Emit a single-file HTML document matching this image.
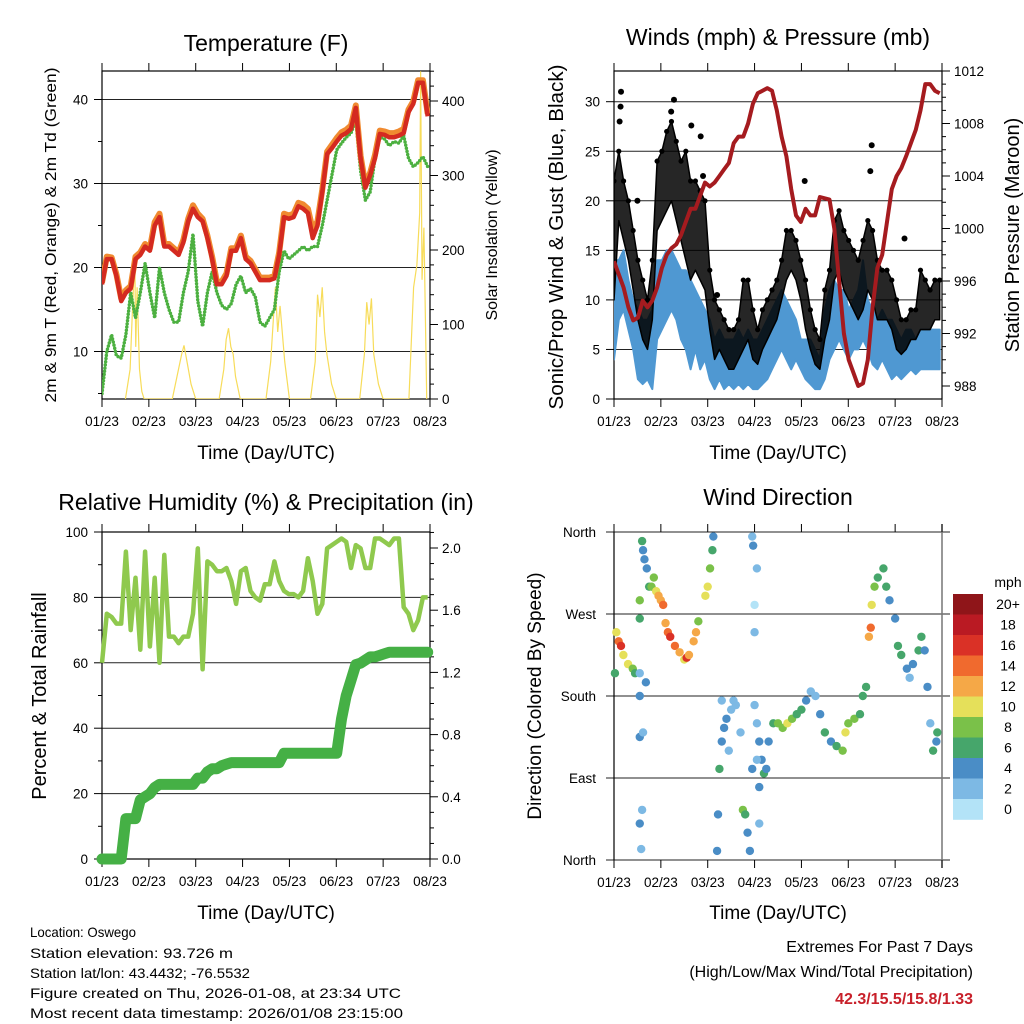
<!DOCTYPE html>
<html><head><meta charset="utf-8"><style>
html,body{margin:0;padding:0;background:#fff}
svg{display:block;font-family:"Liberation Sans",Arial,sans-serif}
</style></head><body>
<svg id="s" width="1024" height="1024" viewBox="0 0 1024 1024" xmlns="http://www.w3.org/2000/svg">
<rect width="1024" height="1024" fill="#fff"/>
<g id="g"></g>
<text x="266" y="51" font-size="23" text-anchor="middle">Temperature (F)</text>
<text x="778" y="45" font-size="23" text-anchor="middle">Winds (mph) &amp; Pressure (mb)</text>
<text x="266" y="510" font-size="23" text-anchor="middle">Relative Humidity (%) &amp; Precipitation (in)</text>
<text x="778" y="505" font-size="23" text-anchor="middle">Wind Direction</text>
<text x="266" y="459" font-size="19" text-anchor="middle">Time (Day/UTC)</text>
<text x="778" y="459" font-size="19" text-anchor="middle">Time (Day/UTC)</text>
<text x="266" y="919" font-size="19" text-anchor="middle">Time (Day/UTC)</text>
<text x="778" y="919" font-size="19" text-anchor="middle">Time (Day/UTC)</text>
<text transform="translate(56,235) rotate(-90)" font-size="16" text-anchor="middle" textLength="335" lengthAdjust="spacingAndGlyphs">2m &amp; 9m T (Red, Orange) &amp; 2m Td (Green)</text>
<text transform="translate(497,235) rotate(-90)" font-size="16" text-anchor="middle">Solar Insolation (Yellow)</text>
<text transform="translate(563,237) rotate(-90)" font-size="20" text-anchor="middle" textLength="345" lengthAdjust="spacingAndGlyphs">Sonic/Prop Wind &amp; Gust (Blue, Black)</text>
<text transform="translate(1019,235) rotate(-90)" font-size="20" text-anchor="middle">Station Pressure (Maroon)</text>
<text transform="translate(46,696) rotate(-90)" font-size="20" text-anchor="middle">Percent &amp; Total Rainfall</text>
<text transform="translate(541,696) rotate(-90)" font-size="19" text-anchor="middle">Direction (Colored By Speed)</text>
<g font-size="14">
<text x="30" y="937" textLength="106" lengthAdjust="spacingAndGlyphs">Location: Oswego</text>
<text x="30" y="958" textLength="203" lengthAdjust="spacingAndGlyphs">Station elevation: 93.726 m</text>
<text x="30" y="978" textLength="220" lengthAdjust="spacingAndGlyphs">Station lat/lon: 43.4432; -76.5532</text>
<text x="30" y="998" textLength="371" lengthAdjust="spacingAndGlyphs">Figure created on Thu, 2026-01-08, at 23:34 UTC</text>
<text x="30" y="1018" textLength="373" lengthAdjust="spacingAndGlyphs">Most recent data timestamp: 2026/01/08 23:15:00</text>
</g>
<g font-size="16" text-anchor="end">
<text x="973" y="952">Extremes For Past 7 Days</text>
<text x="973" y="977">(High/Low/Max Wind/Total Precipitation)</text>
<text x="973" y="1004" fill="#c8202a" font-weight="bold">42.3/15.5/15.8/1.33</text>
</g>
</svg>
<script>
const xLabels=["01/23","02/23","03/23","04/23","05/23","06/23","07/23","08/23"];
const tempRed=[18,21,21,19,16,17,17.5,21,21.5,22.5,22,25,26,22.5,22.5,22,21.5,23,25.5,27,26,25.5,23.5,21,18,18,19,22,22,23.5,21,20.5,19.5,18.5,18.5,18.5,18.7,21.5,26,25.8,26,27.3,27,26.5,23.5,25,29,33.5,34.2,35,35.7,36,36.5,39,33,29.5,31,33,35.9,35.8,35.5,35.5,35.7,36,38.5,39.5,42,42,38];
const tempOrange=[18.2,21.3,21.2,19.2,16.3,17.3,17.8,21.3,21.8,22.8,22.3,25.4,26.4,22.8,22.8,22.3,21.8,23.3,25.8,27.4,26.4,25.8,23.8,21.3,18.3,18.3,19.3,22.3,22.3,23.8,21.3,20.8,19.8,18.8,18.8,18.8,19,21.8,26.4,26.2,26.4,27.7,27.5,27,24.5,25.5,29.3,33.8,34.6,35.4,36.1,36.4,36.9,39.3,33.3,29.8,31.3,33.4,36.3,36.2,36,36,36.2,36.5,38.8,39.8,42.3,42.3,38.3];
const tempDew=[5,10,12,9.5,9.2,12,17,14,17,20.5,17,14,20,17,15,13.5,13.5,17,19.5,24,16,13,17,19.5,17,15.5,15,15.7,18,19,17,17.5,16.5,13.5,13,14,15,19.5,22,21,21.5,22,22.5,22,22.5,22.5,25,28,31,34,34.8,35.5,36,37.5,31.5,28,29,33,35.5,35.3,34.5,35,34.8,35.7,33,32,32.5,33.2,32];
const solarTimes=[0.5,0.6,0.65,0.7,0.72,0.75,0.8,0.85,0.9,1.5,1.6,1.7,1.75,1.8,1.9,2.0,2.5,2.6,2.65,2.7,2.75,2.8,2.85,2.95,3.5,3.6,3.65,3.7,3.75,3.8,3.9,4.0,4.45,4.55,4.6,4.65,4.7,4.75,4.8,4.9,5.0,5.5,5.6,5.65,5.7,5.75,5.8,5.9,6.0,6.55,6.65,6.72,6.78,6.8,6.83,6.87,6.93];
const solarVals=[0,40,120,190,70,150,40,10,0,0,30,60,72,55,20,0,0,40,80,95,70,60,30,0,0,50,100,150,90,125,50,0,0,50,140,110,150,90,60,20,0,0,60,130,100,135,60,20,0,0,150,180,250,440,160,230,0];
const windHi=[14,14,15,12,10,9,8,8,9,14,14,15,15,14,13,13,12,11,10,9,8,6,7,6,6,6,7,6,7,6,6,7,8,9,10,11,10,9,8,6,6,6,5,4,9,11,12,11,11,9,10,11,14,10,9,8,9,8,8,7,6,7,7,6,7,7,7,7,7];
const windLo=[4,8,9,7,5,2,1.5,2,1,6,7,8,9,8,6,5,3,5,3,4,2,1,2,1,1.5,1,1.5,1,1.5,1,1,1.5,2,3,4,5,4,3,4,3,2,1.5,1,1,2,4,5,6,5,4,5,5,6,5,3.5,3,4,3,2,2.5,2,2.5,3,2.5,3,3,3,3,3];
const gustHi=[22,25,22,20,17,14,12,10,14,24,25,27,28,26,24,25,22,22,21,20,13,10,9,8,7,7,8,12,12,9,7,9,10,11,12,14,17,17,16,14,12,9,7,6,11,13,18,19,17,16,15,14,16,18,17,14,13,13,12,10,8,8,9,9,13,12,11,12,12];
const gustLo=[10,18,16,14,11,8,6,5,8,17,18,19,20,18,16,14,12,13,12,11,7,4,5,4,3,3,4,5,6,4,3.5,5,6,7,8,10,12,13,12,10,7,5,3.5,3,6,8,12,13,11,10,9,8,9,11,10,8,8,8,7,5,4.5,5,6,6,7,7,7,8,8];
const gustOutT=[0.15,0.14,0.12,1.28,1.22,1.65,1.85,5.5,5.47,4.07,2.2,6.2,0.5,1.9];
const gustOutV=[31,29.5,28,30.2,29,27.6,26.5,25.6,23,22,10.5,16.2,20,22.5];
const pressure=[997.5,996.5,995.5,994,993,993.2,994.5,994,994.5,995.5,997,998,998.5,998.8,999.5,1000.5,1001.5,1001.5,1002.5,1003.5,1003.2,1003.5,1004,1004.5,1005,1006.5,1007,1007,1008,1009.5,1010.3,1010.5,1010.7,1010.5,1009,1007,1005.5,1003,1001,1000.5,1001.5,1001,1001,1002.4,1002.3,1002.2,1000,996,992,990,989,988,988.2,990,994,997,998,1000.5,1003,1004,1004.6,1005.5,1006.5,1007.5,1009,1011,1011,1010.5,1010.3];
const rh=[60,75,74,72,72,94,70,86,64,94,65,86,60,93,68,68,66,68,68,75,95,58,91,90,88,88,89,85,78,88,89,82,80,79,84,84,91,85,82,81,81,80,82,92,85,75,78,95,96,97,98,97,89,96,95,89,89,98,98,97,96,98,98,77,75,70,73,80,80];
const precip=[0,0,0,0,0,0.26,0.26,0.26,0.38,0.4,0.42,0.46,0.48,0.48,0.48,0.48,0.48,0.48,0.48,0.48,0.52,0.52,0.56,0.58,0.58,0.6,0.61,0.62,0.62,0.62,0.62,0.62,0.62,0.62,0.62,0.62,0.62,0.62,0.68,0.68,0.68,0.68,0.68,0.68,0.68,0.68,0.68,0.68,0.68,0.68,0.9,1.05,1.15,1.25,1.26,1.28,1.3,1.3,1.31,1.32,1.33,1.33,1.33,1.33,1.33,1.33,1.33,1.33,1.33];
const dirT=[0.02,0.05,0.1,0.15,0.2,0.3,0.4,0.45,0.55,0.55,0.55,0.55,0.58,0.62,0.68,0.6,0.55,0.55,0.6,0.62,0.65,0.7,0.75,0.8,0.85,0.9,0.95,1.0,1.05,1.1,1.15,1.2,1.3,1.4,1.5,1.55,1.6,1.7,1.75,1.8,1.95,2.0,2.05,2.1,2.12,2.2,2.22,2.25,2.3,2.35,2.4,2.5,2.55,2.3,2.6,2.7,2.45,2.75,2.8,2.85,2.9,2.95,2.97,3.05,3.0,3.0,3.0,3.05,3.1,3.15,3.2,3.25,3.1,3.1,3.05,2.95,3.3,3.4,3.5,3.6,3.7,3.8,3.9,4.0,4.1,4.2,4.3,4.4,4.5,4.63,4.75,4.88,4.94,5.0,5.13,5.25,5.31,5.38,5.44,5.48,5.5,5.56,5.63,5.75,5.81,5.88,6.0,6.06,6.13,6.25,6.31,6.38,6.5,6.56,6.63,6.69,6.75,6.81,6.88,6.9];
const dirV=[205,250,240,235,225,215,210,205,205,180,135,40,12,140,195,55,285,265,350,340,330,320,300,300,310,295,290,285,280,260,250,245,235,228,220,222,225,240,250,262,290,300,320,340,355,10,50,100,130,145,155,165,175,175,170,140,120,55,50,30,10,355,345,320,280,250,170,150,130,110,95,100,80,40,110,100,130,150,150,145,150,155,160,165,175,185,180,160,140,130,125,120,140,150,155,160,180,190,245,255,280,300,310,320,300,285,265,235,225,210,200,215,230,245,230,190,150,120,130,140];
const dirS=[6,10,14,16,10,10,8,6,2,4,4,4,3,2,4,2,8,6,6,4,4,4,6,8,8,10,12,12,14,12,14,16,14,12,10,16,12,12,12,8,10,10,8,6,4,4,4,6,4,4,4,2,2,2,2,2,2,8,6,4,4,2,4,2,0,2,2,2,4,4,6,4,4,2,2,4,4,6,8,8,10,8,6,6,4,2,2,4,6,4,6,8,10,8,8,6,6,6,12,14,10,8,6,6,6,4,4,6,6,4,2,4,6,6,4,4,2,6,4,6];
const cbLabels=["20+","18","16","14","12","10","8","6","4","2","0"];
const cbColors=["#8f1519","#ba1a23","#da3126","#f06a2e","#f5a847","#e5e05a","#7ac149","#46a66b","#4a8dc6","#7db9e4","#b3e3f7"];

const NS="http://www.w3.org/2000/svg",G=document.getElementById('g');
function el(tag,attrs,parent){const e=document.createElementNS(NS,tag);for(const k in attrs)e.setAttribute(k,attrs[k]);(parent||G).appendChild(e);return e;}
const SPAN=6.95;
function tAt(i,n){return i*SPAN/(n-1);}
function panel(x0,x1,y0,y1){return{x0,x1,y0,y1,sx:t=>x0+(x1-x0)*t/7};}
function lin(v0,p0,v1,p1){return v=>p0+(v-v0)*(p1-p0)/(v1-v0);}
function frame(P,name,leftTicks,ly,leftMinor,rightTicks,ry,rightMinor,rightFmt,grid){
  const g=el('g',{});
  if(grid)leftTicks.forEach(v=>el('line',{x1:P.x0,x2:P.x1,y1:ly(v),y2:ly(v),stroke:'#222','stroke-width':1},g));
  el('rect',{x:P.x0,y:P.y0,width:P.x1-P.x0,height:P.y1-P.y0,fill:'none',stroke:'#000','stroke-width':1.2},g);
  xLabels.forEach((l,i)=>{const x=P.sx(i);el('line',{x1:x,x2:x,y1:P.y1,y2:P.y1+8,stroke:'#000'},g);el('line',{x1:x,x2:x,y1:P.y0,y2:P.y0-8,stroke:'#000'},g);
    const t=el('text',{x:x,y:P.y1+27,'font-size':13.5,'text-anchor':'middle'},g);t.textContent=l;});
  leftTicks.forEach(v=>{const y=ly(v);el('line',{x1:P.x0-8,x2:P.x0,y1:y,y2:y,stroke:'#000'},g);});
  (leftMinor||[]).forEach(v=>{const y=ly(v);el('line',{x1:P.x0-4,x2:P.x0,y1:y,y2:y,stroke:'#000'},g);});
  if(rightTicks){rightTicks.forEach(v=>{const y=ry(v);el('line',{x1:P.x1,x2:P.x1+8,y1:y,y2:y,stroke:'#000'},g);
    const t=el('text',{x:P.x1+12,y:y+5,'font-size':13.5},g);t.textContent=rightFmt(v);});
    (rightMinor||[]).forEach(v=>{const y=ry(v);el('line',{x1:P.x1,x2:P.x1+4,y1:y,y2:y,stroke:'#000'},g);});}
  return g;}
function leftLabels(P,ticks,ly,fmt){ticks.forEach(v=>{const t=el('text',{x:P.x0-14,y:ly(v)+5,'font-size':13.5,'text-anchor':'end'});t.textContent=fmt(v);});}
function pathOf(arr,P,yf){return arr.map((v,i)=>(i?'L':'M')+P.sx(tAt(i,arr.length)).toFixed(1)+' '+yf(v).toFixed(1)).join(' ');}
function band(lo,hi,P,yf){let d=hi.map((v,i)=>(i?'L':'M')+P.sx(tAt(i,hi.length)).toFixed(1)+' '+yf(v).toFixed(1)).join(' ');
  for(let i=lo.length-1;i>=0;i--)d+=' L'+P.sx(tAt(i,lo.length)).toFixed(1)+' '+yf(lo[i]).toFixed(1);return d+' Z';}

// ---- Temperature
const PT=panel(102,430,71,399);
const tY=lin(10,351.5,40,99.5), sY=lin(0,399,400,101);
let c=el('clipPath',{id:'c1'});el('rect',{x:PT.x0,y:PT.y0,width:328,height:328},c);
frame(PT,'temperature',[10,20,30,40],tY,[5,15,25,35],[0,100,200,300,400],sY,[20,40,60,80,120,140,160,180,220,240,260,280,320,340,360,380,420,440],v=>v,true);
leftLabels(PT,[10,20,30,40],tY,v=>v);
let gt=el('g',{'clip-path':'url(#c1)'});
let p=el('path',{d:solarTimes.map((t,i)=>(i?'L':'M')+PT.sx(t)+' '+sY(solarVals[i])).join(' '),fill:'none',stroke:'#f7dc5a','stroke-width':1.2},gt);

p=el('path',{d:pathOf(tempDew,PT,tY),fill:'none',stroke:'#4cb040','stroke-width':3.5,'stroke-dasharray':'0 3.2','stroke-linecap':'round'},gt);

p=el('path',{d:pathOf(tempOrange,PT,tY),fill:'none',stroke:'#f08a30','stroke-width':6,'stroke-linejoin':'round'},gt);

p=el('path',{d:pathOf(tempRed,PT,tY),fill:'none',stroke:'#d42a20','stroke-width':4.5,'stroke-linejoin':'round'},gt);


// ---- Winds
const PW=panel(614,942,71,399);
const wY=lin(0,399,30,101.7), pY=lin(988,386,1012,71);
c=el('clipPath',{id:'c2'});el('rect',{x:PW.x0,y:PW.y0,width:328,height:328},c);
frame(PW,'winds',[0,5,10,15,20,25,30],wY,[],[988,992,996,1000,1004,1008,1012],pY,[989,990,991,993,994,995,997,998,999,1001,1002,1003,1005,1006,1007,1009,1010,1011],v=>v,true);
leftLabels(PW,[0,5,10,15,20,25,30],wY,v=>v);
let gw=el('g',{'clip-path':'url(#c2)'});
p=el('path',{d:band(windLo,windHi,PW,wY),fill:'#4f98d2',stroke:'#4f98d2','stroke-width':2,'stroke-linejoin':'round'},gw);

p=el('path',{d:band(gustLo,gustHi,PW,wY),fill:'#000',stroke:'#000','stroke-width':1.5,'stroke-linejoin':'round','fill-opacity':0.85},gw);

gustHi.forEach((v,i)=>{const d=el('circle',{cx:PW.sx(tAt(i,gustHi.length)),cy:wY(v),r:2.6,fill:'#000'},gw);
  
  });
gustOutT.forEach((t,i)=>{const d=el('circle',{cx:PW.sx(t),cy:wY(gustOutV[i]),r:3,fill:'#000'},gw);
  
  });
p=el('path',{d:pathOf(pressure,PW,pY),fill:'none',stroke:'#a51b1f','stroke-width':4,'stroke-linejoin':'round'},gw);


// ---- RH & precip
const PR=panel(102,430,532,859);
const rY=lin(0,859,100,532), qY=lin(0,859,2,548);
c=el('clipPath',{id:'c3'});el('rect',{x:PR.x0-8,y:PR.y0-8,width:344,height:343},c);
frame(PR,'rh',[0,20,40,60,80,100],rY,[10,30,50,70,90],[0,0.4,0.8,1.2,1.6,2.0],qY,[0.1,0.2,0.3,0.5,0.6,0.7,0.9,1.0,1.1,1.3,1.4,1.5,1.7,1.8,1.9,2.1],v=>v.toFixed(1),true);
leftLabels(PR,[0,20,40,60,80,100],rY,v=>v);
let gr=el('g',{'clip-path':'url(#c3)'});
p=el('path',{d:pathOf(rh,PR,rY),fill:'none',stroke:'#8fc94e','stroke-width':4.5,'stroke-linejoin':'round'},gr);

p=el('path',{d:pathOf(precip,PR,qY),fill:'none',stroke:'#45b045','stroke-width':11,'stroke-linejoin':'round','stroke-linecap':'round'},gr);


// ---- Wind direction
const PD=panel(614,942,532,860);
const dY=lin(0,860,360,532);
const dirNames=["North","East","South","West","North"];
const ga=el('g',{});
[0,90,180,270,360].forEach((v,i)=>{el('line',{x1:PD.x0-8,x2:PD.x1+8,y1:dY(v),y2:dY(v),stroke:'#222'},ga);
  const t=el('text',{x:PD.x0-18,y:dY(v)+5,'font-size':13.5,'text-anchor':'end'},ga);t.textContent=dirNames[i];});
el('line',{x1:PD.x0,x2:PD.x0,y1:PD.y0,y2:PD.y1,stroke:'#000','stroke-width':1.2},ga);
el('line',{x1:PD.x1,x2:PD.x1,y1:PD.y0-8,y2:PD.y1+8,stroke:'#777','stroke-width':1.5},ga);
xLabels.forEach((l,i)=>{const x=PD.sx(i);el('line',{x1:x,x2:x,y1:PD.y1,y2:PD.y1+8,stroke:'#000'},ga);el('line',{x1:x,x2:x,y1:PD.y0,y2:PD.y0-8,stroke:'#000'},ga);
  const t=el('text',{x:x,y:PD.y1+27,'font-size':13.5,'text-anchor':'middle'},ga);t.textContent=l;});
const gd=el('g',{});
function colorFor(s){const k=Math.min(10,Math.floor(s/2));return cbColors[10-k];}
dirT.forEach((t,i)=>{const d=el('circle',{cx:PD.sx(t),cy:dY(dirV[i]),r:4.2,fill:colorFor(dirS[i])},gd);
  
  });
const gc=el('g',{});
const cbTop=594,cbH=20.5;
cbColors.forEach((col,i)=>{el('rect',{x:953,y:cbTop+i*cbH,width:30,height:cbH+0.3,fill:col},gc);
  const t=el('text',{x:1008,y:cbTop+i*cbH+15,'font-size':14,'text-anchor':'middle'},gc);t.textContent=cbLabels[i];});
const mt=el('text',{x:1008,y:587,'font-size':14,'text-anchor':'middle'},gc);mt.textContent='mph';
</script>
</body></html>
